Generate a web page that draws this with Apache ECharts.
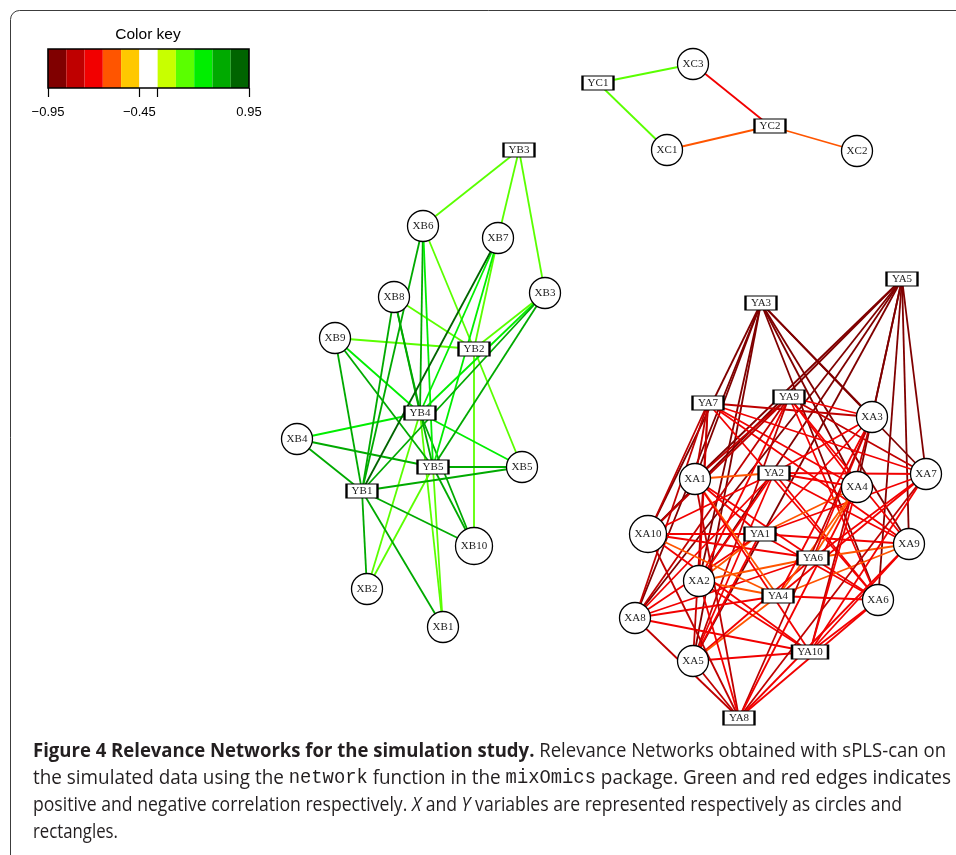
<!DOCTYPE html>
<html>
<head>
<meta charset="utf-8">
<script src="https://cdn.jsdelivr.net/npm/echarts@6/dist/echarts.min.js"></script>
<style>
  html, body { margin: 0; padding: 0; background: #fff; }
  #chart { width: 956px; height: 855px; }
</style>
</head>
<body>
<div id="chart"></div>
<script>
// ---- Colour key: correlation breakpoints and bin colours ----
const keyBreaks = [-0.95, -0.85, -0.75, -0.65, -0.55, -0.45, 0.45, 0.55, 0.65, 0.75, 0.85, 0.95];
const keyColors = ['#800000', '#bf0000', '#f20000', '#ff5500', '#ffc800', '#ffffff',
                   '#c8ff00', '#5aff00', '#00ee00', '#00aa00', '#006400'];
const keyTickIdx = [0, 5, 6, 11];
const keyLabelIdx = [0, 5, 11];

// ---- Node layout coordinates (network drawing space) ----
const nodesC = [
  ['XC3', 693, 64], ['YC1', 598, 83], ['YC2', 770, 126], ['XC1', 667, 150], ['XC2', 857, 151]
];
const nodesB = [
  ['YB3', 519, 150], ['XB6', 423, 226], ['XB7', 498, 238], ['XB3', 545, 293], ['XB8', 394, 297],
  ['XB9', 335, 338], ['YB2', 474, 349], ['YB4', 420, 413], ['XB4', 297, 439], ['YB5', 433, 467],
  ['XB5', 522, 467], ['YB1', 362, 491], ['XB10', 474, 546], ['XB2', 367, 589], ['XB1', 443, 627]
];
const nodesA = [
  ['YA5', 902, 279], ['YA3', 761, 303], ['YA7', 708, 403], ['YA9', 789, 397], ['XA3', 872, 417],
  ['XA1', 695, 479], ['YA2', 774, 473], ['XA4', 857, 487], ['XA7', 926, 474], ['XA10', 648, 534],
  ['YA1', 760, 534], ['YA6', 813, 558], ['XA9', 909, 544], ['XA2', 699, 581], ['YA4', 778, 596],
  ['XA6', 878, 600], ['XA8', 635, 618], ['XA5', 693, 661], ['YA10', 810, 652], ['YA8', 739, 718]
];

// ---- Edges: [Y variable, X variable, correlation] ----
const edgesC = [
  ['YC1', 'XC3', 0.60], ['YC1', 'XC1', 0.60],
  ['YC2', 'XC3', -0.70], ['YC2', 'XC1', -0.60], ['YC2', 'XC2', -0.60]
];
const edgesB = [
  ['YB3', 'XB6', 0.60], ['YB3', 'XB7', 0.60], ['YB3', 'XB3', 0.60],
  ['YB2', 'XB3', 0.60], ['YB2', 'XB5', 0.60], ['YB2', 'XB6', 0.60], ['YB2', 'XB7', 0.60],
  ['YB2', 'XB8', 0.60], ['YB2', 'XB9', 0.60], ['YB2', 'XB10', 0.60],
  ['YB4', 'XB1', 0.60], ['YB4', 'XB2', 0.60], ['YB4', 'XB3', 0.70], ['YB4', 'XB4', 0.70],
  ['YB4', 'XB5', 0.70], ['YB4', 'XB6', 0.80], ['YB4', 'XB7', 0.70], ['YB4', 'XB8', 0.80],
  ['YB4', 'XB9', 0.70], ['YB4', 'XB10', 0.80],
  ['YB5', 'XB1', 0.60], ['YB5', 'XB2', 0.60], ['YB5', 'XB3', 0.80], ['YB5', 'XB4', 0.80],
  ['YB5', 'XB5', 0.80], ['YB5', 'XB6', 0.70], ['YB5', 'XB7', 0.70], ['YB5', 'XB8', 0.80],
  ['YB5', 'XB9', 0.80], ['YB5', 'XB10', 0.80],
  ['YB1', 'XB1', 0.80], ['YB1', 'XB2', 0.80], ['YB1', 'XB3', 0.80], ['YB1', 'XB4', 0.80],
  ['YB1', 'XB5', 0.80], ['YB1', 'XB6', 0.80], ['YB1', 'XB7', 0.90], ['YB1', 'XB8', 0.80],
  ['YB1', 'XB9', 0.80], ['YB1', 'XB10', 0.80]
];
// Block A: every Y variable is linked to every X variable (columns XA1..XA10)
const xVarsA = ['XA1', 'XA2', 'XA3', 'XA4', 'XA5', 'XA6', 'XA7', 'XA8', 'XA9', 'XA10'];
const yVarsA = ['YA3', 'YA5', 'YA7', 'YA9', 'YA2', 'YA1', 'YA6', 'YA4', 'YA10', 'YA8'];
const corrA = [
  [-0.90, -0.90, -0.90, -0.90, -0.90, -0.90, -0.90, -0.90, -0.90, -0.90],
  [-0.90, -0.90, -0.90, -0.90, -0.90, -0.90, -0.90, -0.90, -0.90, -0.90],
  [-0.80, -0.70, -0.80, -0.70, -0.80, -0.70, -0.70, -0.80, -0.70, -0.80],
  [-0.80, -0.70, -0.70, -0.70, -0.80, -0.70, -0.80, -0.80, -0.70, -0.80],
  [-0.60, -0.70, -0.70, -0.70, -0.70, -0.70, -0.70, -0.70, -0.70, -0.70],
  [-0.70, -0.60, -0.70, -0.60, -0.70, -0.70, -0.70, -0.70, -0.70, -0.70],
  [-0.70, -0.60, -0.70, -0.60, -0.70, -0.70, -0.70, -0.70, -0.60, -0.70],
  [-0.60, -0.60, -0.70, -0.60, -0.60, -0.70, -0.70, -0.70, -0.60, -0.60],
  [-0.70, -0.70, -0.80, -0.70, -0.70, -0.70, -0.70, -0.70, -0.70, -0.70],
  [-0.80, -0.70, -0.80, -0.70, -0.80, -0.70, -0.80, -0.80, -0.70, -0.80]
];

// ---- Caption ----
const captionLines = [
  [['b', 'Figure 4 Relevance Networks for the simulation study.'], ['n', ' Relevance Networks obtained with sPLS-can on']],
  [['n', 'the simulated data using the '], ['m', 'network'], ['n', ' function in the '], ['m', 'mixOmics'],
   ['n', ' package. Green and red edges indicates']],
  [['n', 'positive and negative correlation respectively. '], ['i', 'X'], ['n', ' and '], ['i', 'Y'],
   ['n', ' variables are represented respectively as circles and']],
  [['n', 'rectangles.']]
];
const captionLineWidths = [913, 918, 869, 85];

// colour of an edge from its correlation, using the key's bins
function edgeColor(v) {
  for (let i = 0; i < keyColors.length; i++) {
    if (v >= keyBreaks[i] && v <= keyBreaks[i + 1]) return keyColors[i];
  }
  return v < 0 ? keyColors[0] : keyColors[keyColors.length - 1];
}

const allNodes = nodesC.concat(nodesB, nodesA);
const graphNodes = allNodes.map(([name, x, y]) => {
  const isX = name[0] === 'X';
  const long = name.length > 3;
  return {
    name: name,
    value: [x, y],
    symbol: isX ? 'circle' : 'rect',
    symbolSize: isX ? (long ? 37 : 31) : [long ? 36 : 31, 14],
    itemStyle: { color: '#ffffff', borderColor: '#000000', borderWidth: isX ? 1.3 : 1.6 }
  };
});

const allEdges = edgesC.concat(edgesB);
yVarsA.forEach((y, i) => xVarsA.forEach((x, j) => allEdges.push([y, x, corrA[i][j]])));
const graphLinks = allEdges.map(([s, t, v]) => ({
  source: s, target: t, value: v,
  lineStyle: { color: edgeColor(v), width: 1.8, opacity: 1 }
}));

// caption: each line condensed to its own width; code words keep a fixed glyph width
const capFont = '"Open Sans", "Noto Sans", sans-serif';
const capSize = 20;
const monoFam = '"Liberation Mono", "DejaVu Sans Mono", monospace';
const monoCharW = 11.3;
const ctx = document.createElement('canvas').getContext('2d');
function fontFor(kind) {
  if (kind === 'b') return 'bold ' + capSize + 'px ' + capFont;
  if (kind === 'i') return 'italic ' + capSize + 'px ' + capFont;
  return capSize + 'px ' + capFont;
}
const capY = [751, 778, 805, 832];
const captionGraphics = captionLines.map((segs, i) => {
  let wText = 0, nMono = 0;
  segs.forEach(([k, t]) => {
    if (k === 'm') { nMono += t.length; return; }
    ctx.font = fontFor(k); wText += ctx.measureText(t).width;
  });
  const sx = (captionLineWidths[i] - nMono * monoCharW) / wText;
  const mSize = monoCharW / (0.6 * sx);
  const rich = {
    b: { fontFamily: capFont, fontSize: capSize, fontWeight: 'bold', fill: '#231f20' },
    n: { fontFamily: capFont, fontSize: capSize, fill: '#231f20' },
    i: { fontFamily: capFont, fontSize: capSize, fontStyle: 'italic', fill: '#231f20' },
    m: { fontFamily: monoFam, fontSize: mSize, fill: '#231f20' }
  };
  return {
    type: 'text', x: 33, y: capY[i], scaleX: sx, silent: true,
    style: {
      text: segs.map(([k, t]) => '{' + k + '|' + t + '}').join(''),
      rich: rich, verticalAlign: 'middle', align: 'left'
    }
  };
});

const chart = echarts.init(document.getElementById('chart'), null, { renderer: 'canvas' });
chart.setOption({
  animation: false,
  backgroundColor: '#ffffff',
  grid: [
    { left: 0, top: 0, width: 956, height: 855, show: false },
    { left: 48, top: 49, width: 201, height: 39, show: true, borderColor: '#000000', borderWidth: 1.6,
      backgroundColor: 'transparent', z: 5 }
  ],
  xAxis: [
    { gridIndex: 0, type: 'value', min: 0, max: 956, show: false },
    { gridIndex: 1, type: 'category', data: keyColors.map((c, i) => 'bin' + i), show: false },
    { gridIndex: 1, type: 'value', min: 0, max: keyColors.length, position: 'bottom',
      axisLine: { show: false }, splitLine: { show: false },
      axisTick: { show: true, customValues: keyTickIdx, length: 9, lineStyle: { color: '#000', width: 1.2 } },
      axisLabel: { show: true, customValues: keyLabelIdx, margin: 18, fontSize: 13, color: '#000',
        fontFamily: '"Liberation Sans", Arial, sans-serif',
        formatter: v => { const b = keyBreaks[Math.round(v)]; return (b < 0 ? '\u2212' : '') + Math.abs(b).toFixed(2); } } }
  ],
  yAxis: [
    { gridIndex: 0, type: 'value', min: 0, max: 855, inverse: true, show: false },
    { gridIndex: 1, type: 'value', min: 0, max: 1, show: false }
  ],
  graphic: [
    { type: 'rect', silent: true, z: -1,
      shape: { x: 10.5, y: 10.5, width: 1000, height: 900, r: 9 },
      style: { fill: 'none', stroke: '#3c3c3c', lineWidth: 1 } },
    { type: 'text', x: 148, y: 35, silent: true,
      style: { text: 'Color key', fontSize: 15.5, fontFamily: '"Liberation Sans", Arial, sans-serif',
        fill: '#000', align: 'center', verticalAlign: 'middle' } }
  ].concat(captionGraphics),
  series: [
    {
      type: 'bar', xAxisIndex: 1, yAxisIndex: 1, barWidth: '100%', barCategoryGap: '0%',
      silent: true,
      data: keyColors.map(c => ({ value: 1, itemStyle: { color: c } }))
    },
    {
      type: 'graph', coordinateSystem: 'cartesian2d', xAxisIndex: 0, yAxisIndex: 0,
      layout: 'none', silent: true, roam: false,
      data: graphNodes,
      links: graphLinks,
      label: { show: true, position: 'inside', color: '#222',
        fontFamily: '"Liberation Serif", "DejaVu Serif", serif', fontSize: 11 },
      emphasis: { disabled: true },
      z: 3
    }
  ]
});
</script>
</body>
</html>
